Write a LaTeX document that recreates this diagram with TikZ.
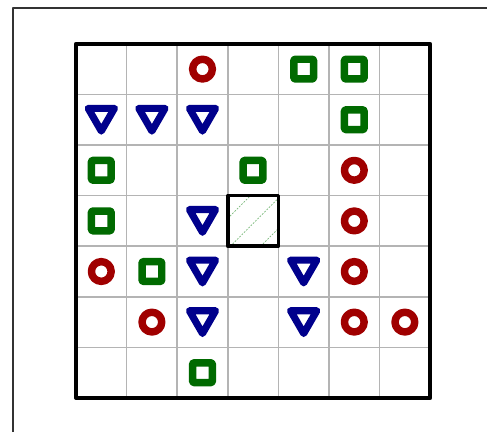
\documentclass[tikz,border=0pt]{standalone}
\usepackage{tikz}
\usetikzlibrary{shapes.geometric}
\definecolor{boardRed}{HTML}{A00000}
\definecolor{boardGreen}{HTML}{006A00}
\definecolor{boardBlue}{HTML}{00008C}
\definecolor{boardGrid}{HTML}{B4B4B4}
\begin{document}
\begin{tikzpicture}[line join=round,
    ring/.style={circle,draw=boardRed,line width=4.2pt,minimum size=0.39cm,inner sep=0pt},
    box/.style={rectangle,draw=boardGreen,line width=4.2pt,minimum size=0.39cm,inner sep=0pt,rounded corners=0.6pt},
    tri/.style={regular polygon,regular polygon sides=3,shape border rotate=180,draw=boardBlue,
                line width=4pt,line join=round,minimum size=0.6cm,inner sep=0pt,yshift=0.075cm},
    hatch/.style={draw=green!30!gray!80,line width=0.4pt,dash pattern=on 1pt off 0.8pt}]
  \useasboundingbox (-1.502,-0.672) rectangle (8.123,7.866);
  \draw[gray!40!black,line width=1pt] (-1.245,-0.672) |- (8.123,7.708);
  \draw[boardGrid,line width=0.8pt] (0,0) grid (7,7);
  \draw[hatch] (3,3.55) -- (3.45,4);
  \draw[hatch] (3.05,3) -- (4,3.95);
  \draw[hatch] (3.65,3) -- (4,3.35);
  \draw[line width=2pt] (3,3) rectangle (4,4);
  \draw[line width=2.3pt] (0,0) rectangle (7,7);
  \foreach \c/\r in {2/0,5/2,5/3,0/4,5/4,1/5,5/5,6/5}
    \node[ring] (ring-\c-\r) at (\c+0.5,6.5-\r) {};
  \foreach \c/\r in {4/0,5/0,5/1,0/2,3/2,0/3,1/4,2/6}
    \node[box] (box-\c-\r) at (\c+0.5,6.5-\r) {};
  \foreach \c/\r in {0/1,1/1,2/1,2/3,2/4,4/4,2/5,4/5}
    \node[tri] (tri-\c-\r) at (\c+0.5,6.5-\r) {};
\end{tikzpicture}
\end{document}
